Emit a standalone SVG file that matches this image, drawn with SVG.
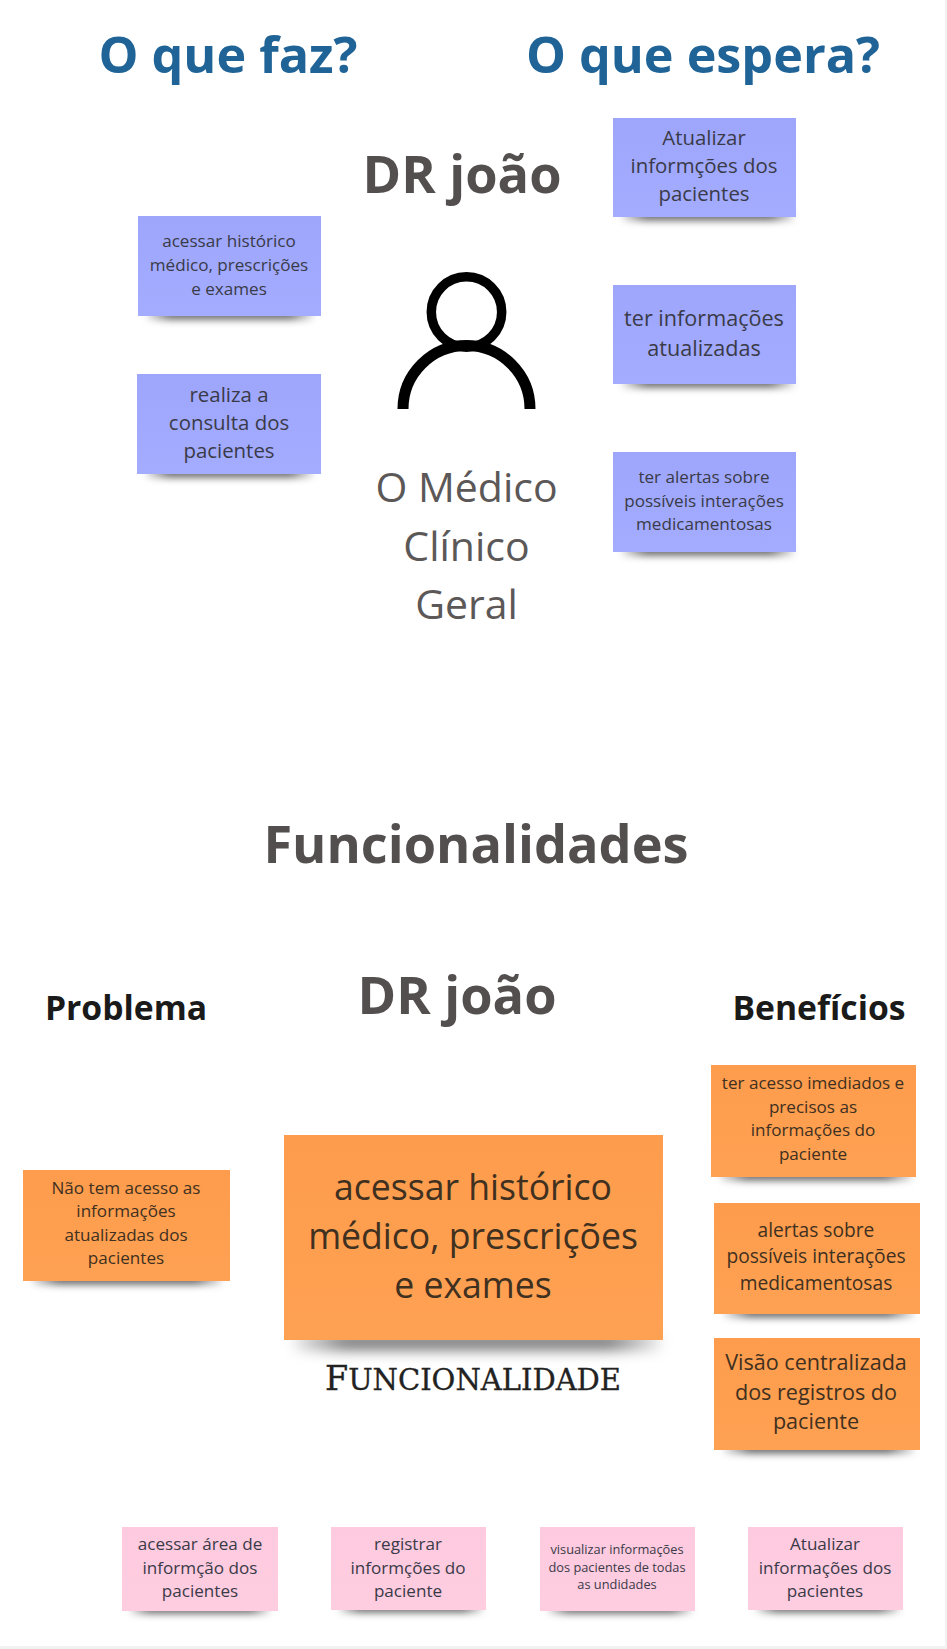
<svg xmlns="http://www.w3.org/2000/svg" width="947" height="1649" viewBox="0 0 947 1649">
  <style>
    text { font-family: "Open Sans", "Noto Sans", sans-serif; text-anchor: middle; }
    .h1 { font-size: 50.3px; font-weight: 700; fill: #1f6397; }
    .h2 { font-size: 52.3px; font-weight: 700; fill: #544f4f; }
    .h3 { font-size: 33.7px; font-weight: 700; fill: #1a1a1a; }
    .role { font-size: 41px; fill: #5c5858; }
    .note { fill: #3a3a48; }
    .warm { fill: #40301f; }
    .s13 { font-size: 12.8px; }
    .s17 { font-size: 17.1px; }
    .s19 { font-size: 19.2px; }
    .s20 { font-size: 20.4px; }
    .s21 { font-size: 21.6px; }
    .s35 { font-size: 35.6px; }
    .shadow { fill: url(#fade); filter: url(#soft); }
    .wide { fill: url(#fade); filter: url(#softer); }
    .slab { font-family: "DejaVu Serif Condensed", "DejaVu Serif", serif; font-stretch: condensed; fill: #222222; stroke: #222222; stroke-width: 0.3px; }
  </style>
  <defs>
    <filter id="soft" x="-20%" y="-100%" width="140%" height="300%"><feGaussianBlur stdDeviation="3.5"/></filter>
    <filter id="softer" x="-20%" y="-150%" width="140%" height="400%"><feGaussianBlur stdDeviation="7"/></filter>
    <linearGradient id="fade" x1="0" y1="0" x2="1" y2="0">
      <stop offset="0" stop-color="#000" stop-opacity="0.08"/>
      <stop offset="0.14" stop-color="#000" stop-opacity="0.55"/>
      <stop offset="0.86" stop-color="#000" stop-opacity="0.55"/>
      <stop offset="1" stop-color="#000" stop-opacity="0.08"/>
    </linearGradient>
    <linearGradient id="blue" x1="0" y1="0" x2="0" y2="1"><stop offset="0" stop-color="#9da6fb"/><stop offset="1" stop-color="#a3acff"/></linearGradient>
    <linearGradient id="orange" x1="0" y1="0" x2="0" y2="1"><stop offset="0" stop-color="#fd9c4c"/><stop offset="1" stop-color="#ffa153"/></linearGradient>
    <linearGradient id="pink" x1="0" y1="0" x2="0" y2="1"><stop offset="0" stop-color="#fdcadf"/><stop offset="1" stop-color="#ffcde0"/></linearGradient>
  </defs>
  <rect width="947" height="1649" fill="#ffffff"/>
  <rect x="945" width="2" height="1649" fill="#f2f2f2"/>
  <rect y="1646" width="947" height="3" fill="#f2f2f2"/>

  <g id="title-doing"><text class="h1" x="228" y="73">O que faz?</text></g>
  <g id="title-expects"><text class="h1" x="703" y="73">O que espera?</text></g>
  <g id="persona-name"><text class="h2" x="462" y="193">DR joão</text></g>

  <g id="persona-icon" fill="none" stroke="#000">
    <circle cx="466.5" cy="312" r="35.2" stroke-width="9.5"/>
    <path d="M403 409 A63.5 63.5 0 0 1 530 409" stroke-width="11"/>
  </g>
  <g id="persona-role">
    <text class="role" x="466.5" y="502">O Médico</text>
    <text class="role" x="466.5" y="561">Clínico</text>
    <text class="role" x="466.5" y="619">Geral</text>
  </g>

  <g id="note-historico">
    <rect class="shadow" x="147" y="309" width="166" height="11"/>
    <rect x="138" y="216" width="183" height="100" fill="url(#blue)"/>
    <text class="note s17" x="229" y="247">acessar histórico</text>
    <text class="note s17" x="229" y="271">médico, prescrições</text>
    <text class="note s17" x="229" y="295">e exames</text>
  </g>
  <g id="note-consulta">
    <rect class="shadow" x="146" y="467" width="167" height="11"/>
    <rect x="137" y="374" width="184" height="100" fill="url(#blue)"/>
    <text class="note s20" x="229" y="402">realiza a</text>
    <text class="note s20" x="229" y="430">consulta dos</text>
    <text class="note s20" x="229" y="458">pacientes</text>
  </g>
  <g id="note-atualizar">
    <rect class="shadow" x="622" y="210" width="172" height="11"/>
    <rect x="613" y="118" width="183" height="99" fill="url(#blue)"/>
    <text class="note s20" x="704" y="145">Atualizar</text>
    <text class="note s20" x="704" y="173">informções dos</text>
    <text class="note s20" x="704" y="201">pacientes</text>
  </g>
  <g id="note-atualizadas">
    <rect class="shadow" x="622" y="377" width="172" height="11"/>
    <rect x="613" y="285" width="183" height="99" fill="url(#blue)"/>
    <text class="note s21" x="704" y="326">ter informações</text>
    <text class="note s21" x="704" y="356">atualizadas</text>
  </g>
  <g id="note-alertas">
    <rect class="shadow" x="622" y="545" width="172" height="11"/>
    <rect x="613" y="452" width="183" height="100" fill="url(#blue)"/>
    <text class="note s17" x="704" y="483">ter alertas sobre</text>
    <text class="note s17" x="704" y="507">possíveis interações</text>
    <text class="note s17" x="704" y="530">medicamentosas</text>
  </g>

  <g id="section-title"><text class="h2" x="476" y="863">Funcionalidades</text></g>
  <g id="label-problema"><text class="h3" x="126" y="1020">Problema</text></g>
  <g id="label-nome"><text class="h2" x="457" y="1014">DR joão</text></g>
  <g id="label-beneficios"><text class="h3" x="819" y="1020">Benefícios</text></g>

  <g id="note-problema">
    <rect class="shadow" x="32" y="1274" width="190" height="11"/>
    <rect x="23" y="1170" width="207" height="111" fill="url(#orange)"/>
    <text class="warm s17" x="126" y="1194">Não tem acesso as</text>
    <text class="warm s17" x="126" y="1217">informações</text>
    <text class="warm s17" x="126" y="1241">atualizadas dos</text>
    <text class="warm s17" x="126" y="1264">pacientes</text>
  </g>
  <g id="note-funcionalidade">
    <rect class="wide" x="294" y="1334" width="366" height="16"/>
    <rect x="284" y="1135" width="379" height="205" fill="url(#orange)"/>
    <text class="warm s35" x="473" y="1200">acessar histórico</text>
    <text class="warm s35" x="473" y="1249">médico, prescrições</text>
    <text class="warm s35" x="473" y="1298">e exames</text>
  </g>
  <g id="label-funcionalidade">
    <text class="slab" x="473" y="1390" font-size="29.5" textLength="296" lengthAdjust="spacingAndGlyphs"><tspan font-size="34">F</tspan>UNCIONALIDADE</text>
  </g>
  <g id="note-acesso">
    <rect class="shadow" x="720" y="1170" width="192" height="11"/>
    <rect x="711" y="1065" width="205" height="112" fill="url(#orange)"/>
    <text class="warm s17" x="813" y="1089">ter acesso imediados e</text>
    <text class="warm s17" x="813" y="1113">precisos as</text>
    <text class="warm s17" x="813" y="1136">informações do</text>
    <text class="warm s17" x="813" y="1160">paciente</text>
  </g>
  <g id="note-interacoes">
    <rect class="shadow" x="724" y="1307" width="190" height="11"/>
    <rect x="714" y="1203" width="206" height="111" fill="url(#orange)"/>
    <text class="warm s19" x="816" y="1237">alertas sobre</text>
    <text class="warm s19" x="816" y="1263">possíveis interações</text>
    <text class="warm s19" x="816" y="1290">medicamentosas</text>
  </g>
  <g id="note-visao">
    <rect class="shadow" x="724" y="1443" width="190" height="11"/>
    <rect x="714" y="1338" width="206" height="112" fill="url(#orange)"/>
    <text class="warm s21" x="816" y="1370">Visão centralizada</text>
    <text class="warm s21" x="816" y="1400">dos registros do</text>
    <text class="warm s21" x="816" y="1429">paciente</text>
  </g>

  <g id="task-acessar">
    <rect class="shadow" x="130" y="1605" width="140" height="9"/>
    <rect x="122" y="1527" width="156" height="84" fill="url(#pink)"/>
    <text class="note s17" x="200" y="1550">acessar área de</text>
    <text class="note s17" x="200" y="1574">informção dos</text>
    <text class="note s17" x="200" y="1597">pacientes</text>
  </g>
  <g id="task-registrar">
    <rect class="shadow" x="339" y="1604" width="144" height="9"/>
    <rect x="331" y="1527" width="155" height="83" fill="url(#pink)"/>
    <text class="note s17" x="408" y="1550">registrar</text>
    <text class="note s17" x="408" y="1574">informções do</text>
    <text class="note s17" x="408" y="1597">paciente</text>
  </g>
  <g id="task-visualizar">
    <rect class="shadow" x="548" y="1605" width="144" height="9"/>
    <rect x="540" y="1527" width="155" height="84" fill="url(#pink)"/>
    <text class="note s13" x="617" y="1554">visualizar informações</text>
    <text class="note s13" x="617" y="1572">dos pacientes de todas</text>
    <text class="note s13" x="617" y="1589">as undidades</text>
  </g>
  <g id="task-atualizar">
    <rect class="shadow" x="756" y="1604" width="144" height="9"/>
    <rect x="748" y="1527" width="155" height="83" fill="url(#pink)"/>
    <text class="note s17" x="825" y="1550">Atualizar</text>
    <text class="note s17" x="825" y="1574">informações dos</text>
    <text class="note s17" x="825" y="1597">pacientes</text>
  </g>

  <g id="connectors"/>
</svg>
